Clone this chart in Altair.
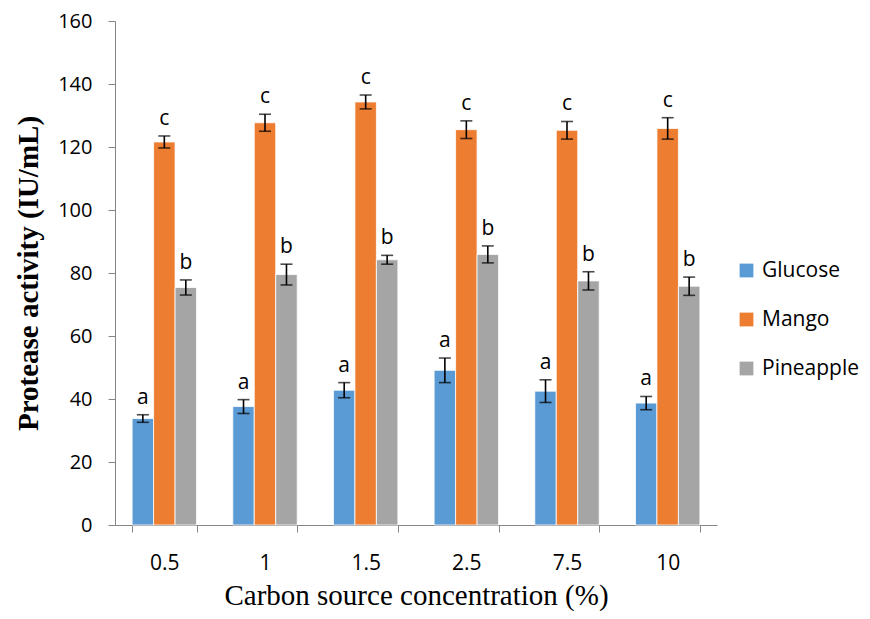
import altair as alt
import pandas as pd

categories = ["0.5", "1", "1.5", "2.5", "7.5", "10"]
series = ["Glucose", "Mango", "Pineapple"]
glucose = [33.8, 37.6, 42.8, 49.1, 42.5, 38.7]
glucose_err = [1.2, 2.2, 2.4, 3.9, 3.6, 2.1]
mango = [121.6, 127.7, 134.3, 125.5, 125.3, 125.9]
mango_err = [1.9, 2.7, 2.2, 2.8, 2.8, 3.4]
pineapple = [75.4, 79.5, 84.2, 85.9, 77.5, 75.8]
pineapple_err = [2.4, 3.3, 1.4, 2.7, 2.9, 2.9]
letters = {"Glucose": "a", "Mango": "c", "Pineapple": "b"}
colors = ["#5B9BD5", "#ED7D31", "#A5A5A5"]

rows = []
for s, vals, errs in [("Glucose", glucose, glucose_err), ("Mango", mango, mango_err), ("Pineapple", pineapple, pineapple_err)]:
    for c, v, e in zip(categories, vals, errs):
        rows.append({"conc": c, "source": s, "value": v, "lo": v - e, "hi": v + e, "letter": letters[s]})
df = pd.DataFrame(rows)

x = alt.X("conc:N", sort=categories, title="Carbon source concentration (%)",
          scale=alt.Scale(paddingInner=0.36, paddingOuter=0.17),
          axis=alt.Axis(labelAngle=0, tickBand="extent", labelFont="Open Sans", labelFontSize=21,
                        labelColor="#000", labelPadding=20, tickSize=7, tickColor="#868686",
                        domainColor="#868686", titleFont="Liberation Serif", titleFontSize=29,
                        titleFontWeight="normal", titleColor="#000", titlePadding=8))
xo = alt.XOffset("source:N", sort=series)

base = alt.Chart(df)

bars = base.mark_bar(stroke="white", strokeWidth=0.8).encode(
    x=x, xOffset=xo,
    y=alt.Y("value:Q", title="Protease activity (IU/mL)",
            scale=alt.Scale(domain=[0, 160]),
            axis=alt.Axis(values=list(range(0, 161, 20)), grid=False, labelFont="Open Sans",
                          labelFontSize=20, labelColor="#000", tickSize=7, tickColor="#868686",
                          domainColor="#868686", labelPadding=16,
                          titleFont="Liberation Serif", titleFontSize=29, titleFontWeight="bold",
                          titleColor="#000", titlePadding=14)),
    color=alt.Color("source:N", sort=series, scale=alt.Scale(domain=series, range=colors),
                    legend=alt.Legend(title=None, orient="none", legendX=621, legendY=239,
                                      symbolType="square", symbolSize=190, symbolStrokeWidth=0,
                                      labelFont="Open Sans", labelFontSize=21, labelColor="#000",
                                      rowPadding=27, labelOffset=5)),
)

rules = base.mark_rule(color="black", strokeWidth=1.6).encode(
    x=x, xOffset=xo, y="lo:Q", y2="hi:Q")
caps_hi = base.mark_tick(color="black", thickness=1.6, size=12, orient="horizontal").encode(
    x=x, xOffset=xo, y="hi:Q")
caps_lo = base.mark_tick(color="black", thickness=1.6, size=12, orient="horizontal").encode(
    x=x, xOffset=xo, y="lo:Q")
labels = base.mark_text(baseline="alphabetic", dy=-11, font="Open Sans", fontSize=21, color="black").encode(
    x=x, xOffset=xo, y="hi:Q", text="letter:N")

chart = alt.layer(bars, rules, caps_hi, caps_lo, labels).properties(
    width=602, height=504,
    autosize=alt.AutoSizeParams(type="none"),
    padding={"left": 107, "top": 13, "right": 145, "bottom": 86},
    background="white",
).configure_view(stroke=None)

chart.save("out.html", embed_options={"renderer": "svg", "actions": False})
